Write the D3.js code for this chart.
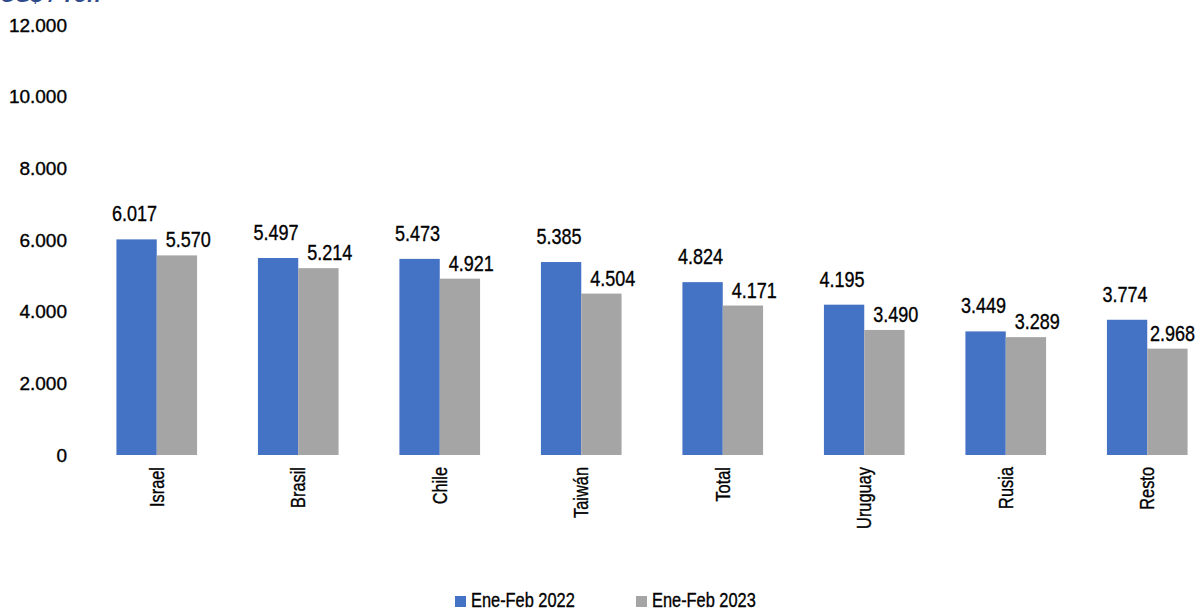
<!DOCTYPE html>
<html>
<head>
<meta charset="utf-8">
<script src="https://cdn.jsdelivr.net/npm/d3@7"></script>
<style>
  body { margin: 0; background: #fff; }
  svg { display: block; }
  .lbl { stroke: #000; stroke-width: 0.35px; fill: #000; }
</style>
</head>
<body>
<svg id="chart" width="1200" height="611"></svg>
<script>
// datos
let categories = ['Israel', 'Brasil', 'Chile', 'Taiwán', 'Total', 'Uruguay', 'Rusia', 'Resto']
let values2022 = [6017, 5497, 5473, 5385, 4824, 4195, 3449, 3774]
let values2023 = [5570, 5214, 4921, 4504, 4171, 3490, 3289, 2968]
let seriesNames = ['Ene-Feb 2022', 'Ene-Feb 2023']
let yTicks = [0, 2000, 4000, 6000, 8000, 10000, 12000]

let colors = ['#4472c4', '#a5a5a5']
let font = "'Liberation Sans', Arial, sans-serif"
let narrowScale = 0.82 // no hay Arial Narrow, se estrecha a mano
let fmt = d3.formatLocale({ decimal: ',', thousands: '.', grouping: [3], currency: ['$', ''] }).format(',.0f')

let svg = d3.select('#chart')

let xscale = d3.scaleBand().domain(categories).range([86, 1218]).paddingInner(0.43).paddingOuter(0.215)
let sub = d3.scaleBand().domain([0, 1]).range([0, xscale.bandwidth()])
let yscale = d3.scaleLinear().domain([0, 12000]).range([455, 25])

// titulo cortado arriba
svg.append('text')
    .attr('x', 0).attr('y', 2)
    .style('font-family', font)
    .style('font-size', '22px')
    .style('font-weight', 'bold')
    .style('font-style', 'italic')
    .style('fill', '#2f4b8c')
    .text('US$ / Ton')

// eje y
let yaxis = svg.append('g').attr('class', 'yaxis')
    .attr('transform', 'translate(67,0)')
    .call(d3.axisLeft(yscale).tickValues(yTicks).tickSize(0).tickPadding(0).tickFormat(fmt))
yaxis.select('.domain').remove()
yaxis.selectAll('text')
    .attr('class', 'lbl')
    .style('font-family', font)
    .style('font-size', '19px')

// eje x
let xaxis = svg.append('g').attr('class', 'xaxis')
    .attr('transform', 'translate(0,467)')
    .call(d3.axisBottom(xscale).tickSize(0).tickPadding(0))
xaxis.select('.domain').remove()
xaxis.selectAll('text')
    .attr('class', 'lbl')
    .attr('transform', `rotate(-90) scale(${narrowScale},1)`)
    .attr('x', 0).attr('y', 0).attr('dy', '0.35em')
    .style('text-anchor', 'end')
    .style('font-family', font)
    .style('font-size', '20px')

let series = [values2022, values2023]

series.forEach((vals, s) => {
    let g = svg.append('g').attr('class', 'serie' + s)
    g.selectAll('rect').data(vals).enter().append('rect')
        .attr('x', (d, i) => xscale(categories[i]) + sub(s))
        .attr('y', d => yscale(d))
        .attr('width', sub.bandwidth())
        .attr('height', d => yscale(0) - yscale(d))
        .style('fill', colors[s])

    g.selectAll('text').data(vals).enter().append('text')
        .attr('class', 'lbl')
        .attr('transform', (d, i) => {
            let lx = s == 0 ?
                xscale(categories[i]) + sub(s) + sub.bandwidth() / 2 - 2 :
                Math.min(xscale(categories[i]) + sub(s) + 9, 1150)
            let ly = s == 0 ? yscale(d) - 18 : yscale(d) - 8
            return `translate(${lx},${ly}) scale(${narrowScale},1)`
        })
        .style('text-anchor', s == 0 ? 'middle' : 'start')
        .style('font-family', font)
        .style('font-size', '22px')
        .text(d => fmt(d))
})

// leyenda
let legendX = [455, 636]
let legend = svg.append('g').attr('class', 'legend')
seriesNames.forEach((name, i) => {
    legend.append('rect')
        .attr('x', legendX[i]).attr('y', 596)
        .attr('width', 11).attr('height', 11)
        .style('fill', colors[i])
    legend.append('text')
        .attr('class', 'lbl')
        .attr('transform', `translate(${legendX[i] + 16},607) scale(${narrowScale},1)`)
        .style('font-family', font)
        .style('font-size', '20px')
        .text(name)
})
</script>
</body>
</html>
